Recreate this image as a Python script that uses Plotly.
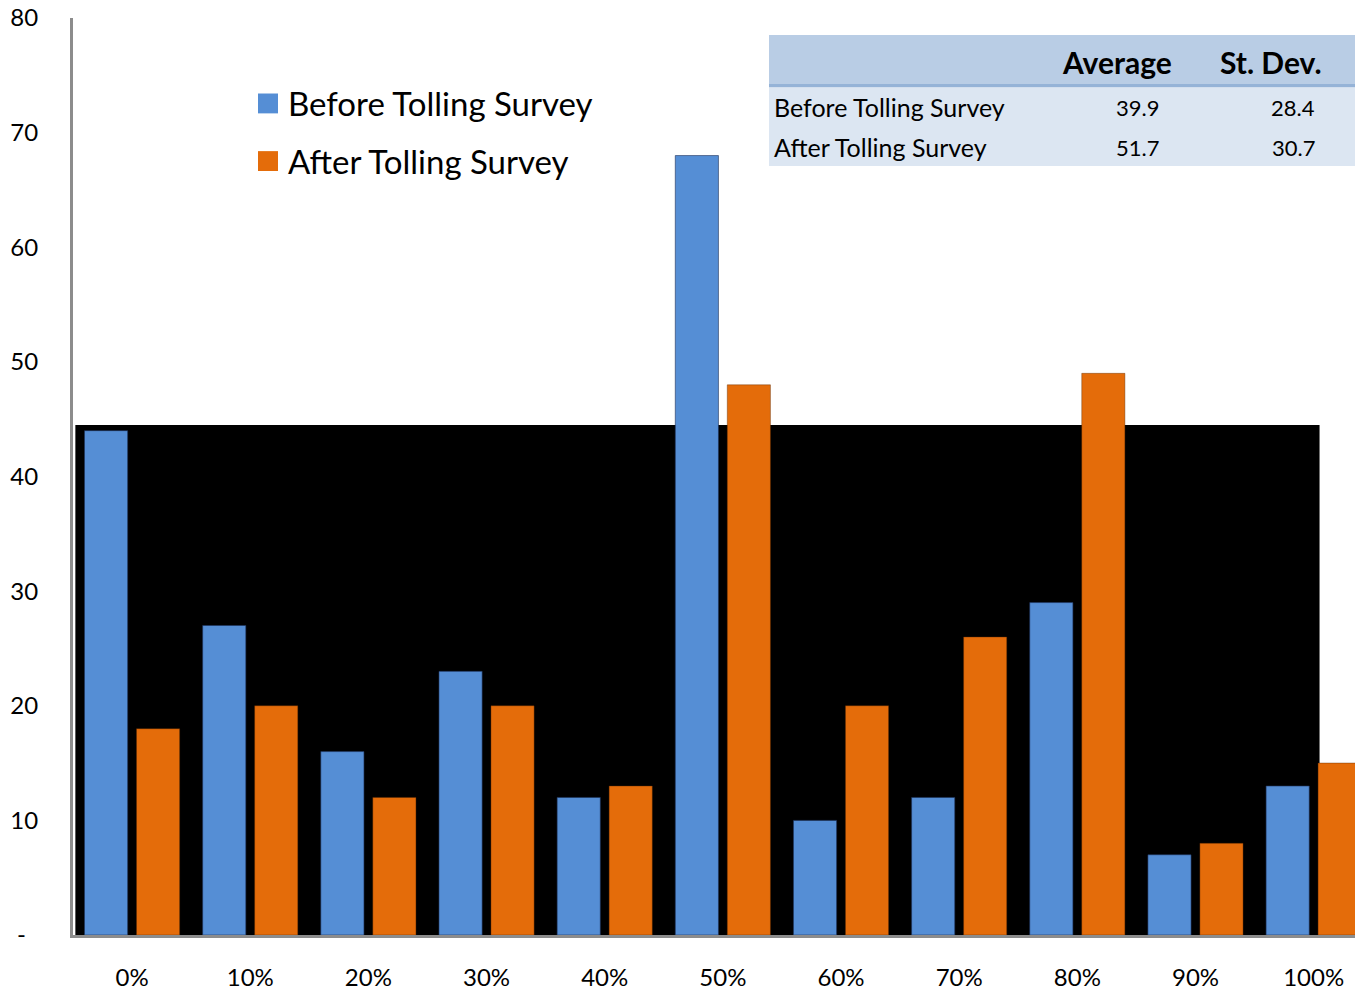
import plotly.graph_objects as go

# Share of trips by toll-road usage share, before vs after tolling
categories = ["0%", "10%", "20%", "30%", "40%", "50%", "60%", "70%", "80%", "90%", "100%"]
before_values = [44, 27, 16, 23, 12, 68, 10, 12, 29, 7, 13]
after_values = [18, 20, 12, 20, 13, 48, 20, 26, 49, 8, 15]
series_names = ["Before Tolling Survey", "After Tolling Survey"]

y_tick_vals = [0, 10, 20, 30, 40, 50, 60, 70, 80]
y_tick_text = ["-\u00a0\u00a0", "10", "20", "30", "40", "50", "60", "70", "80"]

# Summary statistics table
stat_columns = ["Average", "St. Dev."]
stat_rows = ["Before Tolling Survey", "After Tolling Survey"]
stat_average = [39.9, 51.7]
stat_stdev = [28.4, 30.7]

BLUE = "#558ed5"
ORANGE = "#e46c0a"
FONT = "Lato, 'Open Sans', sans-serif"

W, H = 1355, 991
ML, MR, MT, MB = 73, 0, 18, 50
PW, PH = W - ML - MR, H - MT - MB


def px(x):
    return (x - ML) / PW


def py(y):
    return (H - MB - y) / PH


fig = go.Figure()
fig.add_trace(go.Bar(x=list(range(len(categories))), y=before_values, name=series_names[0],
                     marker=dict(color=BLUE, line=dict(color="rgba(30,50,90,0.6)", width=1)),
                     showlegend=False))
fig.add_trace(go.Bar(x=list(range(len(categories))), y=after_values, name=series_names[1],
                     marker=dict(color=ORANGE, line=dict(color="rgba(90,40,0,0.4)", width=1)),
                     showlegend=False))

shapes = []
# dark backdrop panel behind the bars
shapes.append(dict(type="rect", xref="x", yref="y", x0=-0.48, x1=10.05, y0=0, y1=44.5,
                   fillcolor="black", line=dict(width=0), layer="below"))

annotations = []
# legend
for i, (name, col) in enumerate(zip(series_names, [BLUE, ORANGE])):
    cy = 104 + 58 * i
    shapes.append(dict(type="rect", xref="paper", yref="paper",
                       x0=px(258), x1=px(278), y0=py(cy + 10), y1=py(cy - 10),
                       fillcolor=col, line=dict(width=0)))
    annotations.append(dict(xref="paper", yref="paper", x=px(286), y=py(cy), text=name,
                            showarrow=False, xanchor="left", yanchor="middle",
                            font=dict(family=FONT, size=33, color="black")))

# statistics table
shapes.append(dict(type="rect", xref="paper", yref="paper", x0=px(769), x1=px(1355),
                   y0=py(84), y1=py(35), fillcolor="#b9cde5", line=dict(width=0)))
shapes.append(dict(type="rect", xref="paper", yref="paper", x0=px(769), x1=px(1355),
                   y0=py(88), y1=py(84), fillcolor="#95b3d7", line=dict(width=0)))
shapes.append(dict(type="rect", xref="paper", yref="paper", x0=px(769), x1=px(1355),
                   y0=py(167), y1=py(88), fillcolor="#dce6f2", line=dict(width=0)))

header_x = [1117, 1271]
for label, hx in zip(stat_columns, header_x):
    annotations.append(dict(xref="paper", yref="paper", x=px(hx), y=py(62), text=f"<b>{label}</b>",
                            showarrow=False, xanchor="center", yanchor="middle",
                            font=dict(family=FONT, size=30, color="black")))
for i, row in enumerate(stat_rows):
    ry = 108 + 40 * i
    annotations.append(dict(xref="paper", yref="paper", x=px(772), y=py(ry), text=row,
                            showarrow=False, xanchor="left", yanchor="middle",
                            font=dict(family=FONT, size=25, color="black")))
    annotations.append(dict(xref="paper", yref="paper", x=px(1137), y=py(ry), text=f"{stat_average[i]:.1f}",
                            showarrow=False, xanchor="center", yanchor="middle",
                            font=dict(family=FONT, size=22, color="black")))
    annotations.append(dict(xref="paper", yref="paper", x=px(1293), y=py(ry), text=f"{stat_stdev[i]:.1f}",
                            showarrow=False, xanchor="center", yanchor="middle",
                            font=dict(family=FONT, size=22, color="black")))

fig.update_layout(
    width=W, height=H,
    margin=dict(l=ML, r=MR, t=MT, b=MB, pad=0),
    paper_bgcolor="white", plot_bgcolor="white",
    barmode="group", bargap=0.12, bargroupgap=0.17,
    font=dict(family=FONT, size=23, color="black"),
    shapes=shapes, annotations=annotations,
    xaxis=dict(range=[-0.5, 10.35], tickmode="array", tickvals=list(range(len(categories))),
               ticktext=categories, showgrid=False, zeroline=False, showline=True,
               linecolor="#8c8c8c", linewidth=3, ticks="", ticklabelstandoff=19,
               tickfont=dict(family=FONT, size=24), fixedrange=True),
    yaxis=dict(range=[0, 80], tickmode="array", tickvals=y_tick_vals, ticktext=y_tick_text,
               showgrid=False, zeroline=False, showline=True, linecolor="#8c8c8c", linewidth=3,
               ticks="", ticklabelstandoff=27, tickfont=dict(family=FONT, size=24), fixedrange=True),
    showlegend=False,
)

fig.write_html("out.html", config={"displayModeBar": False})
